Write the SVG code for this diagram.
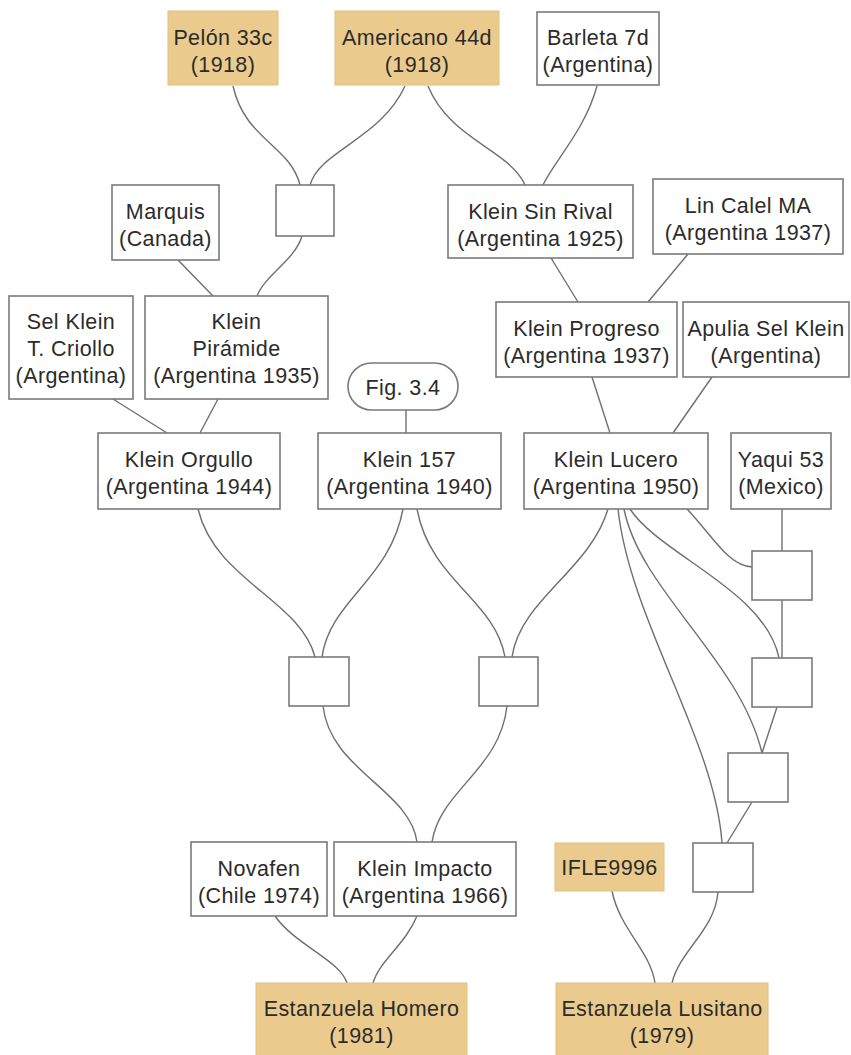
<svg xmlns="http://www.w3.org/2000/svg" width="851" height="1055" viewBox="0 0 851 1055">
<style>
.b{fill:#fff;stroke:#7a7a7a;stroke-width:1.6}
.t{fill:#EBCB8D;stroke:#E2C07F;stroke-width:1}
.e{fill:none;stroke:#6f6f6f;stroke-width:1.4}
text{font-family:"Liberation Sans",Arial,sans-serif;font-size:21.5px;letter-spacing:0.4px;fill:#2b2b2b;text-anchor:middle}
</style>
<rect width="851" height="1055" fill="#fff"/>
<g id="connectors">
<path class="e" d="M233 86 C245 140,290 145,300 185"/>
<path class="e" d="M405 86 C380 140,320 150,310 185"/>
<path class="e" d="M428 86 C450 140,510 150,525 185"/>
<path class="e" d="M597 86 C585 130,555 160,543 185"/>
<path class="e" d="M302 236 C295 260,265 275,257 296"/>
<path class="e" d="M178 260 L213 296"/>
<path class="e" d="M113 399 L167 433"/>
<path class="e" d="M218 399 L200 433"/>
<path class="e" d="M551 258 L578 302"/>
<path class="e" d="M688 254 L648 302"/>
<path class="e" d="M592 377 L610 433"/>
<path class="e" d="M712 377 L673 433"/>
<path class="e" d="M406 410 L406 433"/>
<path class="e" d="M198 509 C215 580,300 600,315 657"/>
<path class="e" d="M403 509 C390 580,330 600,322 657"/>
<path class="e" d="M417 509 C430 580,495 600,505 657"/>
<path class="e" d="M608 509 C590 570,520 600,512 657"/>
<path class="e" d="M323 706 C330 770,410 790,417 842"/>
<path class="e" d="M507 706 C500 770,440 790,432 842"/>
<path class="e" d="M687 509 C712 535,728 566,752 567"/>
<path class="e" d="M782 509 L782 551"/>
<path class="e" d="M782 600 L782 658"/>
<path class="e" d="M630 509 C660 555,765 590,779 658"/>
<path class="e" d="M624 509 C640 590,740 660,762 753"/>
<path class="e" d="M618 509 C630 620,715 740,722 843"/>
<path class="e" d="M777 707 L762 753"/>
<path class="e" d="M752 802 L727 843"/>
<path class="e" d="M718 892 C715 930,680 950,672 983"/>
<path class="e" d="M612 891 C620 930,650 950,655 983"/>
<path class="e" d="M275 916 C295 945,340 960,347 983"/>
<path class="e" d="M417 916 C405 945,380 960,373 983"/>
</g>
<g id="pelon"><rect class="t" x="168" y="11" width="110" height="74"/><text x="223" y="45">Pelón 33c</text><text x="223" y="72">(1918)</text></g>
<g id="americano"><rect class="t" x="335" y="11" width="164" height="74"/><text x="417" y="45">Americano 44d</text><text x="417" y="72">(1918)</text></g>
<g id="barleta"><rect class="b" x="537" y="12" width="122" height="73"/><text x="598" y="45">Barleta 7d</text><text x="598" y="72">(Argentina)</text></g>
<g id="cross1"><rect class="b" x="276" y="185" width="58" height="51"/></g>
<g id="marquis"><rect class="b" x="112" y="185" width="107" height="75"/><text x="165.5" y="219">Marquis</text><text x="165.5" y="246">(Canada)</text></g>
<g id="sinrival"><rect class="b" x="448" y="185" width="185" height="73"/><text x="540.5" y="219">Klein Sin Rival</text><text x="540.5" y="246">(Argentina 1925)</text></g>
<g id="lincalel"><rect class="b" x="653" y="179" width="190" height="75"/><text x="748" y="213">Lin Calel MA</text><text x="748" y="240">(Argentina 1937)</text></g>
<g id="selklein"><rect class="b" x="9" y="296" width="124" height="103"/><text x="71" y="329">Sel Klein</text><text x="71" y="356">T. Criollo</text><text x="71" y="383">(Argentina)</text></g>
<g id="piramide"><rect class="b" x="145" y="296" width="183" height="103"/><text x="236.5" y="329">Klein</text><text x="236.5" y="356">Pirámide</text><text x="236.5" y="383">(Argentina 1935)</text></g>
<g id="progreso"><rect class="b" x="496" y="302" width="181" height="75"/><text x="586.5" y="336">Klein Progreso</text><text x="586.5" y="363">(Argentina 1937)</text></g>
<g id="apulia"><rect class="b" x="683" y="302" width="166" height="75"/><text x="766" y="336">Apulia Sel Klein</text><text x="766" y="363">(Argentina)</text></g>
<g id="fig34"><rect class="b" x="348" y="363" width="110" height="47" rx="23.5"/><text x="403" y="395">Fig. 3.4</text></g>
<g id="orgullo"><rect class="b" x="98" y="433" width="182" height="76"/><text x="189" y="467">Klein Orgullo</text><text x="189" y="494">(Argentina 1944)</text></g>
<g id="klein157"><rect class="b" x="318" y="433" width="183" height="76"/><text x="409.5" y="467">Klein 157</text><text x="409.5" y="494">(Argentina 1940)</text></g>
<g id="lucero"><rect class="b" x="524" y="433" width="184" height="76"/><text x="616" y="467">Klein Lucero</text><text x="616" y="494">(Argentina 1950)</text></g>
<g id="yaqui"><rect class="b" x="731" y="433" width="100" height="76"/><text x="781" y="467">Yaqui 53</text><text x="781" y="494">(Mexico)</text></g>
<g id="crossA"><rect class="b" x="289" y="657" width="60" height="49"/></g>
<g id="crossB"><rect class="b" x="479" y="657" width="59" height="49"/></g>
<g id="crossR1"><rect class="b" x="752" y="551" width="60" height="49"/></g>
<g id="crossR2"><rect class="b" x="752" y="658" width="60" height="49"/></g>
<g id="crossR3"><rect class="b" x="728" y="753" width="60" height="49"/></g>
<g id="crossR4"><rect class="b" x="693" y="843" width="60" height="49"/></g>
<g id="novafen"><rect class="b" x="191" y="842" width="136" height="74"/><text x="259" y="876">Novafen</text><text x="259" y="903">(Chile 1974)</text></g>
<g id="impacto"><rect class="b" x="334" y="842" width="182" height="74"/><text x="425" y="876">Klein Impacto</text><text x="425" y="903">(Argentina 1966)</text></g>
<g id="ifle"><rect class="t" x="555" y="843" width="109" height="48"/><text x="609.5" y="875">IFLE9996</text></g>
<g id="homero"><rect class="t" x="256" y="983" width="211" height="80"/><text x="361.5" y="1016">Estanzuela Homero</text><text x="361.5" y="1043">(1981)</text></g>
<g id="lusitano"><rect class="t" x="556" y="983" width="212" height="80"/><text x="662" y="1016">Estanzuela Lusitano</text><text x="662" y="1043">(1979)</text></g>
</svg>
